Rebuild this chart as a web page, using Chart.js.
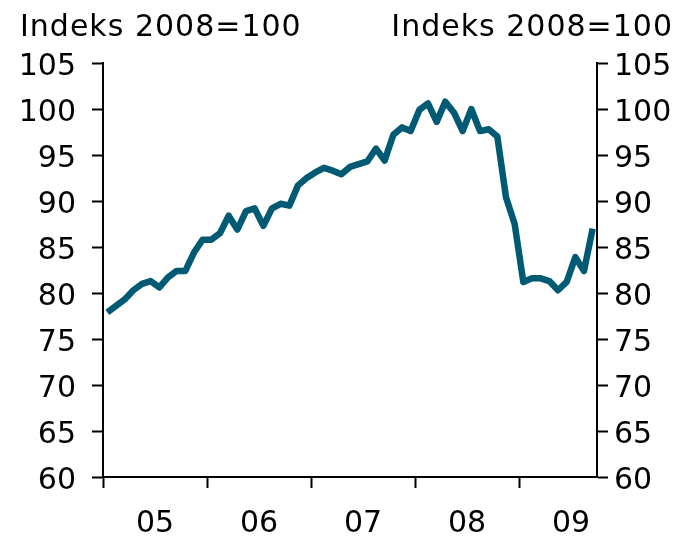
<!DOCTYPE html>
<html>
<head>
<meta charset="utf-8">
<script src="https://cdn.jsdelivr.net/npm/chart.js@4.4.1/dist/chart.umd.min.js"></script>
<style>
  body { margin: 0; background: #fff; }
  #wrap { width: 689px; height: 540px; }
</style>
</head>
<body>
<div id="wrap"><canvas id="chart_index" width="689" height="540"></canvas></div>
<script>
// Indeks 2008=100, månedlige tal jan 2005 - sep 2009
const years = ['05', '06', '07', '08', '09']
const monthsPerYear = 12
const indexValues = [
  77.9, 78.6, 79.3, 80.3, 81.0, 81.3, 80.6, 81.7, 82.4, 82.4, 84.4, 85.8,
  85.8, 86.5, 88.4, 86.9, 88.9, 89.2, 87.3, 89.2, 89.7, 89.5, 91.7, 92.5,
  93.1, 93.6, 93.3, 92.9, 93.7, 94.0, 94.3, 95.7, 94.4, 97.2, 98.0, 97.6,
  99.9, 100.6, 98.6, 100.8, 99.6, 97.6, 100.0, 97.6, 97.8, 97.0, 90.4, 87.5,
  81.2, 81.6, 81.6, 81.3, 80.3, 81.2, 83.9, 82.4, 87.0
]
const yMin = 60
const yMax = 105
const yStep = 5
const axisTitle = 'Indeks 2008=100'

const lineColor = '#005a73'
const font = { family: '"DejaVu Sans", Verdana, sans-serif', size: 30 }

// år-grænser (tick-streger) og midtpunkter (labels)
const boundaries = years.map((y, i) => i * monthsPerYear - 0.5)
const midpoints = years.map((y, i) => i * monthsPerYear + monthsPerYear / 2 - 0.5)

const titlePlugin = {
  id: 'titles',
  afterDraw(chart) {
    const c = chart.ctx
    c.save()
    c.font = '30px ' + font.family
    c.letterSpacing = '1px'
    c.fillStyle = '#000'
    c.textBaseline = 'alphabetic'
    c.textAlign = 'left'
    c.fillText(axisTitle, 20, 36)
    c.textAlign = 'right'
    c.fillText(axisTitle, 673, 36)
    c.restore()
  }
}

const yAxis = (pos, width, pad) => ({
  type: 'linear',
  position: pos,
  min: yMin,
  max: yMax,
  afterFit: (s) => { s.width = width },
  ticks: {
    stepSize: yStep,
    color: '#000',
    font: font,
    padding: pad,
    labelOffset: 4
  },
  grid: {
    drawOnChartArea: false,
    tickLength: 11,
    tickWidth: 2,
    tickColor: '#000'
  },
  border: { display: true, color: '#000', width: 2 }
})

new Chart(document.getElementById('chart_index'), {
  type: 'line',
  data: {
    datasets: [{
      label: axisTitle,
      data: indexValues.map((v, i) => ({ x: i, y: v })),
      borderColor: lineColor,
      backgroundColor: lineColor,
      borderWidth: 6.5,
      borderJoinStyle: 'round',
      pointRadius: 0,
      tension: 0,
      fill: false
    }]
  },
  options: {
    responsive: false,
    devicePixelRatio: 1,
    animation: false,
    layout: { padding: { top: 63, left: 0, right: 0, bottom: 0 } },
    plugins: {
      legend: { display: false },
      tooltip: { enabled: false }
    },
    scales: {
      x: {
        type: 'linear',
        min: -0.5,
        max: indexValues.length - 0.5,
        afterFit: (s) => { s.height = 63 },
        afterBuildTicks: (s) => {
          s.ticks = boundaries.concat(midpoints).sort((a, b) => a - b).map(v => ({ value: v }))
        },
        ticks: {
          autoSkip: false,
          maxRotation: 0,
          color: '#000',
          font: font,
          padding: 18,
          callback: function(value) {
            const k = midpoints.indexOf(value)
            return k >= 0 ? years[k] : ''
          }
        },
        grid: {
          drawOnChartArea: false,
          tickLength: 11,
          tickWidth: 2,
          tickColor: (ctx) => boundaries.includes(ctx.tick && ctx.tick.value) ? '#000' : 'rgba(0,0,0,0)'
        },
        border: { display: true, color: '#000', width: 2 }
      },
      y: yAxis('left', 103, 16),
      y2: yAxis('right', 92, 6)
    }
  },
  plugins: [titlePlugin]
})
</script>
</body>
</html>
